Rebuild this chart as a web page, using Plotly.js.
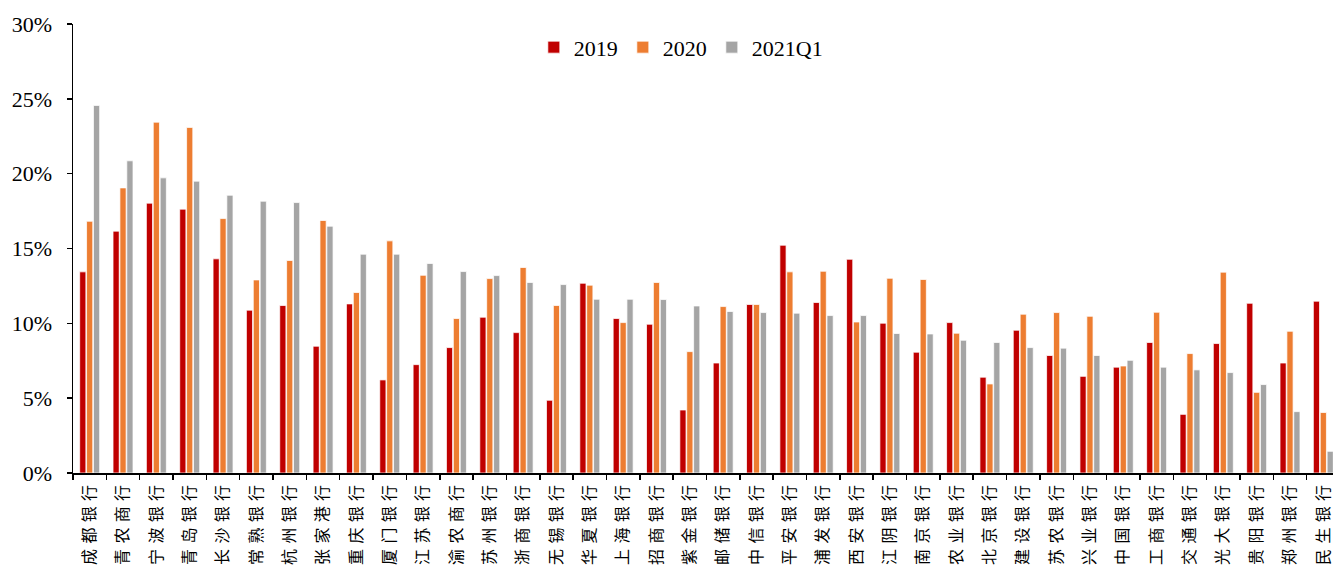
<!DOCTYPE html>
<html>
<head>
<meta charset="utf-8">
<script src="https://cdn.plot.ly/plotly-3.0.1.min.js"></script>
<style>html,body{margin:0;padding:0;background:#fff;}#chart{width:1333px;height:580px;}</style>
</head>
<body>
<div id="chart"></div>
<script>
const categories = ["成都银行","青农商行","宁波银行","青岛银行","长沙银行","常熟银行","杭州银行","张家港行","重庆银行","厦门银行",
  "江苏银行","渝农商行","苏州银行","浙商银行","无锡银行","华夏银行","上海银行","招商银行","紫金银行","邮储银行",
  "中信银行","平安银行","浦发银行","西安银行","江阴银行","南京银行","农业银行","北京银行","建设银行","苏农银行",
  "兴业银行","中国银行","工商银行","交通银行","光大银行","贵阳银行","郑州银行","民生银行"];
const seriesNames = ["2019","2020","2021Q1"];
const v2019 = [13.44,16.16,18.03,17.63,14.31,10.88,11.19,8.47,11.30,6.22,
  7.24,8.38,10.41,9.38,4.86,12.68,10.32,9.94,4.21,7.35,
  11.26,15.22,11.39,14.28,10.01,8.07,10.05,6.40,9.54,7.85,
  6.46,7.07,8.72,3.92,8.65,11.34,7.35,11.48];
const v2020 = [16.82,19.05,23.44,23.09,17.00,12.90,14.20,16.87,12.06,15.51,
  13.21,10.32,12.99,13.73,11.19,12.55,10.05,12.73,8.11,11.12,
  11.26,13.44,13.48,10.09,13.01,12.93,9.34,5.95,10.61,10.72,
  10.47,7.15,10.74,7.98,13.42,5.39,9.47,4.04];
const v2021Q1 = [24.56,20.86,19.72,19.50,18.56,18.16,18.07,16.49,14.62,14.62,
  14.00,13.46,13.19,12.73,12.59,11.61,11.61,11.59,11.16,10.79,
  10.72,10.68,10.52,10.52,9.32,9.29,8.87,8.72,8.38,8.34,
  7.85,7.53,7.07,6.89,6.71,5.91,4.10,1.45];
const colors = ["#C00000","#ED7D31","#A5A5A5"];

const xLabels = categories.map(c => c.split('').join('\u2004'));
const values = [v2019, v2020, v2021Q1];
const traces = values.map((v, i) => ({
  type: 'bar',
  name: seriesNames[i],
  x: xLabels,
  y: v,
  marker: {color: colors[i], line: {color: '#ffffff', width: 0.75}},
  hoverinfo: 'x+y+name'
}));

const serif = 'Liberation Serif, DejaVu Serif, serif';
const layout = {
  width: 1333, height: 580,
  margin: {l: 73, r: 0, t: 24, b: 107, pad: 0},
  paper_bgcolor: '#ffffff', plot_bgcolor: '#ffffff',
  barmode: 'group', bargap: 0.38, bargroupgap: 0.1,
  showlegend: true,
  legend: {orientation: 'h', x: 0.4824, xanchor: 'center', y: 0.948, yanchor: 'middle',
    font: {family: serif, size: 22, color: '#000'}, bgcolor: 'rgba(0,0,0,0)', traceorder: 'normal'},
  xaxis: {
    type: 'category', range: [-0.5, 37.29],
    showline: true, linecolor: '#000', linewidth: 1.5,
    ticks: 'outside', ticklen: 5, tickwidth: 1.5, tickcolor: '#000', tickson: 'boundaries',
    tickangle: -90, ticklabelstandoff: 4,
    tickfont: {family: 'Noto Sans CJK SC', size: 16, color: '#000'},
    showgrid: false, zeroline: false, fixedrange: true
  },
  yaxis: {
    range: [0, 30], dtick: 5, tick0: 0, ticksuffix: '%',
    showline: true, linecolor: '#000', linewidth: 1.5,
    ticks: 'outside', ticklen: 5, tickwidth: 1.5, tickcolor: '#000',
    ticklabelstandoff: 10,
    tickfont: {family: serif, size: 22, color: '#000'},
    showgrid: false, zeroline: false, fixedrange: true
  }
};
Plotly.newPlot('chart', traces, layout, {displayModeBar: false, staticPlot: true});
</script>
</body>
</html>
